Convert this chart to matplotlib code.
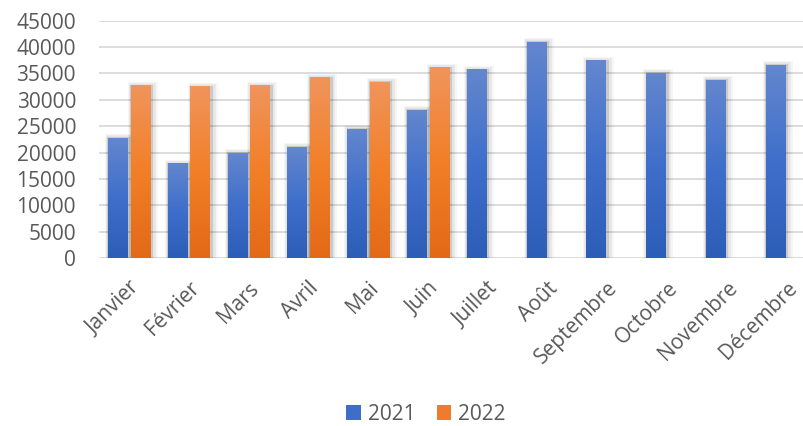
import matplotlib.pyplot as plt
import matplotlib.patheffects as pe
from matplotlib.colors import LinearSegmentedColormap
from matplotlib.patches import Patch
import numpy as np

# monthly values
months = ['Janvier', 'Février', 'Mars', 'Avril', 'Mai', 'Juin', 'Juillet',
          'Août', 'Septembre', 'Octobre', 'Novembre', 'Décembre']
v2021 = [22800, 18000, 20000, 21100, 24500, 28100, 35800,
         41000, 37500, 35100, 33800, 36600]
v2022 = [32800, 32600, 32800, 34300, 33400, 36200]
yticks = np.arange(0, 45001, 5000)

plt.rcParams['font.family'] = ['Open Sans', 'DejaVu Sans']
txt = '#595959'

# excel-like vertical gradients (bottom -> top)
blue = LinearSegmentedColormap.from_list('b', ['#2C5DB7', '#3F6FCB', '#6487CE'])
orange = LinearSegmentedColormap.from_list('o', ['#E36917', '#F27F27', '#F0955D'])
grad = np.linspace(0, 1, 256).reshape(-1, 1)

fig = plt.figure(figsize=(8.04, 4.26), dpi=100)
ax = fig.add_axes([0.1231, 0.3937, 0.8925, 0.5577])

x = np.arange(len(months))
w = 0.32
off = 0.19

# soft drop shadow, mostly right / below the bar
shadow = [pe.Stroke(offset=(1.5, -1), linewidth=8, foreground='#000000', alpha=0.035),
          pe.Stroke(offset=(1.5, -1), linewidth=5.5, foreground='#000000', alpha=0.06),
          pe.Stroke(offset=(1, -1), linewidth=3, foreground='#000000', alpha=0.12)]


def grad_bars(xs, vals, cmap):
    bars = ax.bar(xs, vals, w, facecolor='none', edgecolor='none', zorder=2)
    for b in bars:
        b.set_path_effects(shadow)
        x0, y0 = b.get_x(), b.get_y()
        im = ax.imshow(grad, cmap=cmap, origin='lower', aspect='auto',
                       extent=[x0, x0 + b.get_width(), y0, y0 + b.get_height()],
                       zorder=3)
        im.set_clip_path(b)


grad_bars(x - off, v2021, blue)
grad_bars(x[:len(v2022)] + off, v2022, orange)

ax.set_xlim(-0.5, len(months) - 0.5)
ax.set_ylim(0, 45000)
ax.set_yticks(yticks)
ax.set_yticklabels([str(t) for t in yticks], fontsize=15, color=txt)
ax.set_xticks(x)
ax.set_xticklabels(months, fontsize=15, color=txt, rotation=45,
                   ha='right', va='top', rotation_mode='anchor')
ax.tick_params(axis='both', length=0)
ax.tick_params(axis='y', pad=16.5)
ax.tick_params(axis='x', pad=14)
ax.yaxis.grid(True, color='#D9D9D9', linewidth=1.3)
ax.set_axisbelow(True)
for s in ax.spines.values():
    s.set_visible(False)

handles = [Patch(facecolor='#3F6EC6', label='2021'),
           Patch(facecolor='#EF7B2C', label='2022')]
fig.legend(handles=handles, loc='center', bbox_to_anchor=(0.53, 0.027), ncol=2,
           frameon=False, fontsize=15, labelcolor=txt, handlelength=0.7,
           handleheight=0.7, handletextpad=0.35, columnspacing=1.0)

fig.savefig('out.png', dpi=100)
